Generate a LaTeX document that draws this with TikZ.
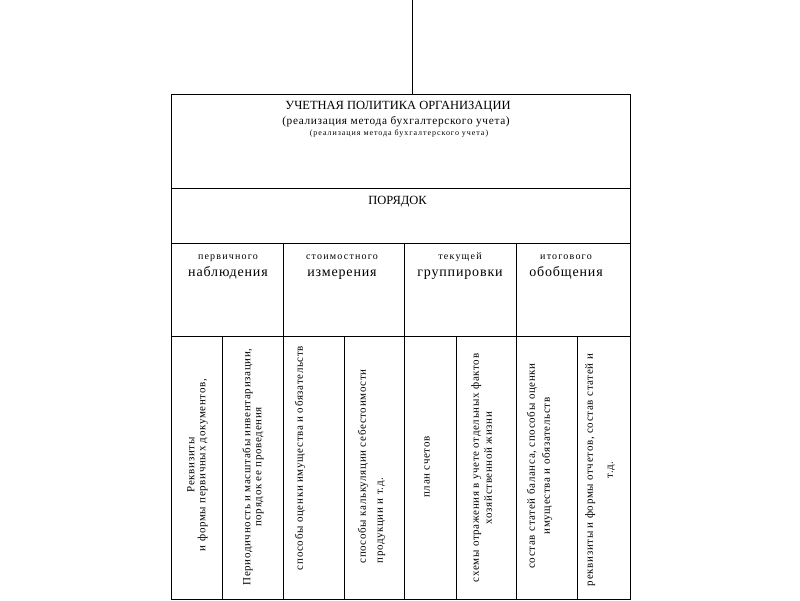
\documentclass[tikz,border=0pt]{standalone}
\usepackage{fontspec}
\setmainfont{Liberation Serif}
\newfontfamily\spacedfont[LetterSpace=12]{Liberation Serif}
\newfontfamily\widefont[LetterSpace=6]{Liberation Serif}
\usetikzlibrary{positioning}
\tikzset{
    gridline/.style={draw, line width=0.8pt},
    headtext/.style={inner sep=0pt, anchor=base, font=\fontsize{12.5pt}{14pt}\selectfont},
    subtext/.style={inner sep=0pt, anchor=base, font=\widefont\fontsize{11.3pt}{13pt}\selectfont},
    smalltext/.style={inner sep=0pt, anchor=base, font=\spacedfont\fontsize{8pt}{10pt}\selectfont},
    stagetop/.style={inner sep=0pt, anchor=base, font=\spacedfont\fontsize{10pt}{12pt}\selectfont},
    stagebottom/.style={inner sep=0pt, anchor=base, font=\widefont\fontsize{14pt}{16pt}\selectfont},
    celltext/.style={inner sep=0pt, rotate=90, align=center, font=\widefont\fontsize{11pt}{11pt}\selectfont},
}
\begin{document}
\begin{tikzpicture}[x=1pt,y=-1pt]
\useasboundingbox (0,0) rectangle (800,601);

% frame and grid
\node[gridline, anchor=north west, inner sep=0pt, minimum width=459pt, minimum height=505pt] (frame) at (171,94) {};
\coordinate (top) at (412,0);
\draw[line width=0.8pt] (top) -- (top |- frame.north);

\draw[gridline] (171,188) -- (630,188);
\draw[gridline] (171,243) -- (630,243);
\draw[gridline] (171,336) -- (630,336);
\foreach \x in {283,404,516} \draw[gridline] (\x,243) -- (\x,599);
\foreach \x in {222,344,456,577} \draw[gridline] (\x,336) -- (\x,599);

% top rows
\node[headtext] (policy) at (398,110) {УЧЕТНАЯ ПОЛИТИКА ОРГАНИЗАЦИИ};
\node[subtext] (method) at (396,125) {(реализация метода бухгалтерского учета)};
\node[smalltext] (methodsmall) at (399,136) {(реализация метода бухгалтерского учета)};
\node[headtext] (order) at (397.5,205) {ПОРЯДОК};

% stages
\node[stagetop] (stage1a) at (228,260) {первичного};
\node[stagebottom] (stage1b) at (228,277) {наблюдения};
\node[stagetop] (stage2a) at (342,260) {стоимостного};
\node[stagebottom] (stage2b) at (342,277) {измерения};
\node[stagetop] (stage3a) at (460,260) {текущей};
\node[stagebottom] (stage3b) at (460,277) {группировки};
\node[stagetop] (stage4a) at (566,260) {итогового};
\node[stagebottom] (stage4b) at (566,277) {обобщения};

% elements
\node[celltext] (item1a) at (197.5,465) {Реквизиты\\и формы первичных документов,};
\node[celltext] (item1b) at (253,467) {Периодичность и масштабы инвентаризации,\\порядок ее проведения};
\node[celltext] (item2a) at (300,458) {способы оценки имущества и обязательств};
\node[celltext, align=left] (item2b) at (371.5,466.5) {способы калькуляции себестоимости\\[6pt]продукции и т.д.};
\node[celltext] (item3a) at (427,467) {план счетов};
\node[celltext] (item3b) at (481.5,468) {схемы отражения в учете отдельных фактов\\[2pt]хозяйственной жизни};
\node[celltext] (item4a) at (539.5,466) {состав статей баланса, способы оценки\\[4pt]имущества и обязательств};
\node[celltext] (item4b) at (600,470) {реквизиты и формы отчетов, состав статей и\\[9pt]т.д.};
\end{tikzpicture}
\end{document}
